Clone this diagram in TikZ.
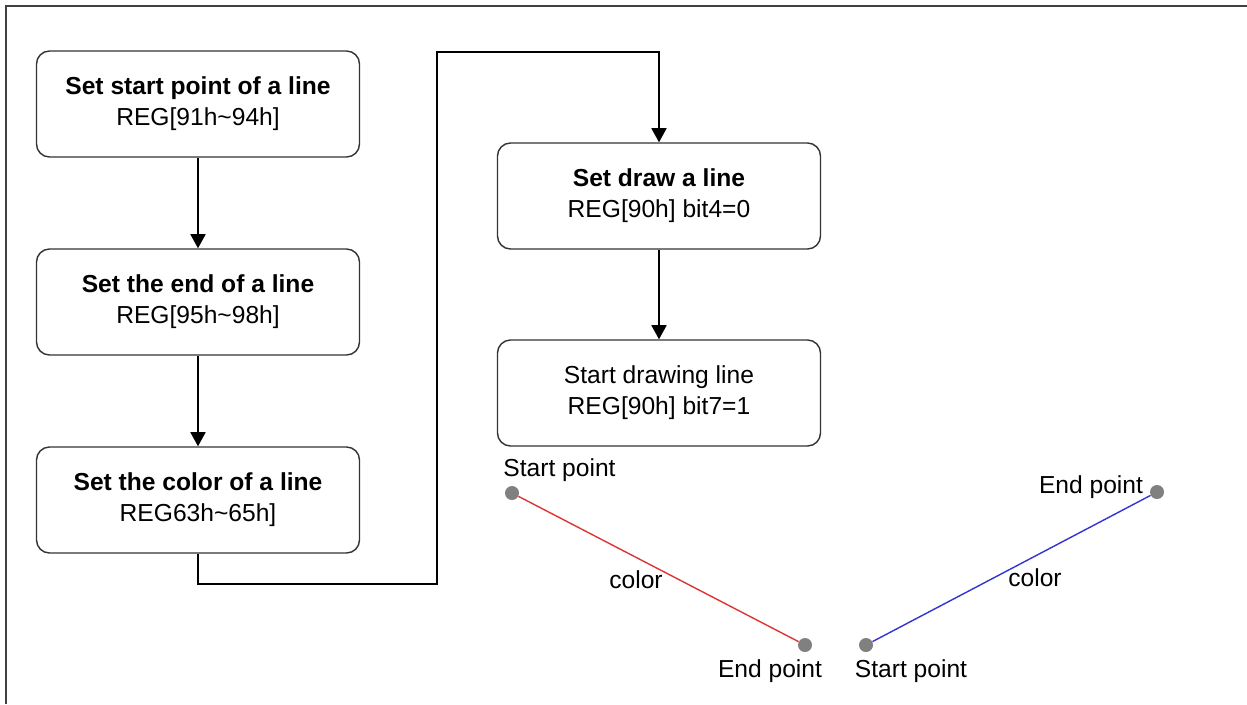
\documentclass[tikz,border=0pt]{standalone}
\usepackage{fontspec}
\setmainfont{Liberation Sans}
\usepackage{tikz}
\usetikzlibrary{arrows,arrows.meta,shapes}
\usepackage{xcolor}
\definecolor{dotgray}{RGB}{128,128,128}
\definecolor{linered}{RGB}{222,52,52}
\definecolor{lineblue}{RGB}{52,52,210}

\begin{document}
\begin{tikzpicture}[-, font=\fontsize{14}{17.5}\selectfont, box/.style={rectangle, rounded corners=0.26cm, draw=black!80, line width=0.8pt, minimum width=6.46cm, minimum height=2.12cm, align=center, inner sep=0}, arr/.style={-{Triangle[width=8.5pt,length=8pt]}, line width=1.1pt}, dot/.style={circle, fill=dotgray, minimum size=0.28cm, inner sep=0}, lbl/.style={inner sep=0}]
\useasboundingbox (0,0) rectangle (24.94,-14.08);
\draw [black!75, line width=1.4pt] (0.12,-14.08) -- (0.12,-0.12) -- (24.94,-0.12);
\node[box] (1) at (3.96,-2.08) {\textbf{Set start point of a line}\\REG[91h\textasciitilde 94h]};
\node[box] (2) at (3.96,-6.04) {\textbf{Set the end of a line}\\REG[95h\textasciitilde 98h]};
\node[box] (3) at (3.96,-10.0) {\textbf{Set the color of a line}\\REG63h\textasciitilde 65h]};
\node[box] (4) at (13.18,-3.92) {\textbf{Set draw a line}\\REG[90h] bit4=0};
\node[box] (5) at (13.18,-7.86) {Start drawing line\\REG[90h] bit7=1};
\coordinate (c1) at (8.74,-11.68);
\coordinate (c2) at (8.74,-1.04);
\path[arr]
(1) edge (2)
(2) edge (3)
(4) edge (5);
\draw[arr] (3) |- (c1) -- (c2) -| (4);
% red line, start to end
\node[dot] (6) at (10.24,-9.86) {};
\node[dot] (7) at (16.10,-12.90) {};
\draw[linered, line width=0.8pt] (6) -- (7);
\node[lbl] (8) at (11.19,-9.4) {Start point};
\node[lbl] (9) at (15.4,-13.42) {End point};
\node[lbl] (10) at (12.72,-11.6) {color};
% blue line, start to end
\node[dot] (11) at (17.32,-12.90) {};
\node[dot] (12) at (23.14,-9.84) {};
\draw[lineblue, line width=0.8pt] (11) -- (12);
\node[lbl] (13) at (18.22,-13.42) {Start point};
\node[lbl] (14) at (21.82,-9.74) {End point};
\node[lbl] (15) at (20.7,-11.56) {color};
\end{tikzpicture}
\end{document}
